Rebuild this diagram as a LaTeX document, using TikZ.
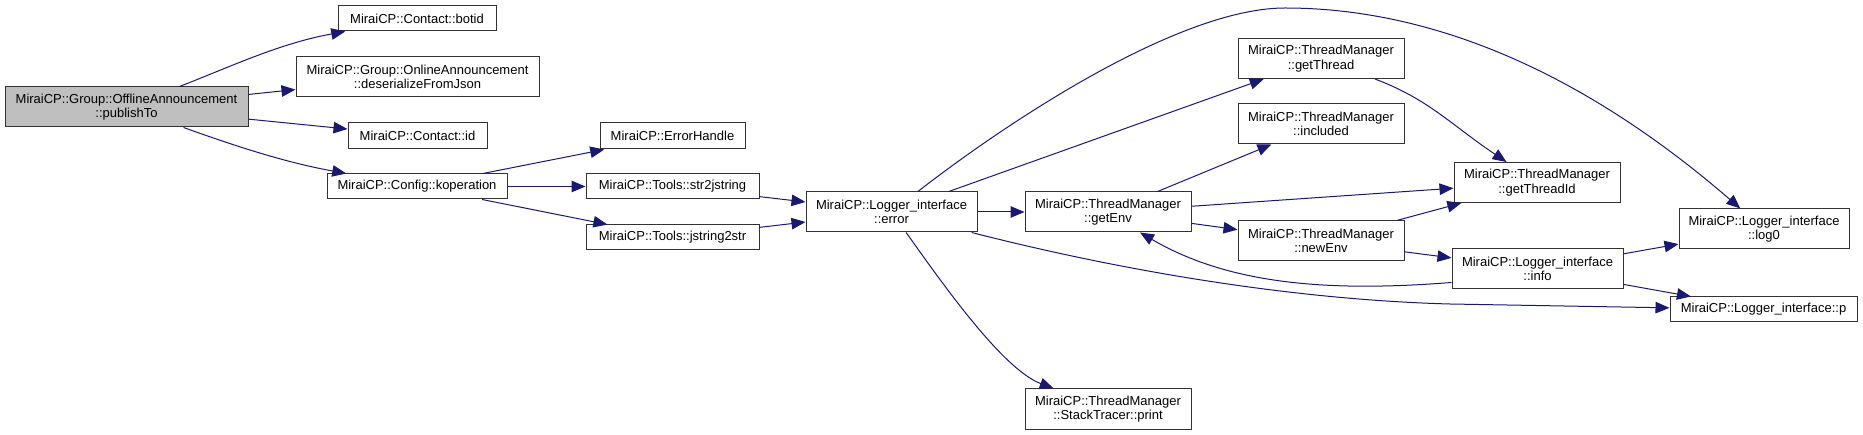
\documentclass[tikz,border=0pt]{standalone}
\usepackage{fontspec}
\setmainfont{Liberation Sans}
\usetikzlibrary{arrows.meta}
\definecolor{mblue}{HTML}{191970}
\definecolor{rootfill}{HTML}{BFBFBF}
\definecolor{bord}{HTML}{333333}
\begin{document}
\begin{tikzpicture}[x=1pt,y=-1pt,
  fn/.style={draw=bord, line width=1pt, fill=white, inner sep=0pt, align=center,
    font=\fontsize{13}{14.5}\selectfont, anchor=center},
  conn/.style={draw=mblue, line width=1pt, -{Triangle[length=14pt,width=11.5pt]}}]
\useasboundingbox (0,0) rectangle (1863,435);
% nodes
\node[fn, fill=rootfill, minimum width=243pt, minimum height=40pt] (pub) at (126.5,107) {MiraiCP::Group::OfflineAnnouncement\\::publishTo};
\node[fn, minimum width=158pt, minimum height=25pt] (botid) at (417,18.5) {MiraiCP::Contact::botid};
\node[fn, minimum width=243pt, minimum height=40pt] (deser) at (417.5,77) {MiraiCP::Group::OnlineAnnouncement\\::deserializeFromJson};
\node[fn, minimum width=139pt, minimum height=26pt] (cid) at (417.5,136) {MiraiCP::Contact::id};
\node[fn, minimum width=180pt, minimum height=25pt] (koper) at (417,186.5) {MiraiCP::Config::koperation};
\node[fn, minimum width=145pt, minimum height=26pt] (errh) at (672.5,136) {MiraiCP::ErrorHandle};
\node[fn, minimum width=173pt, minimum height=25pt] (s2j) at (672.5,186.5) {MiraiCP::Tools::str2jstring};
\node[fn, minimum width=173pt, minimum height=25pt] (j2s) at (672.5,237.5) {MiraiCP::Tools::jstring2str};
\node[fn, minimum width=171pt, minimum height=40pt] (err) at (891.5,212) {MiraiCP::Logger\_interface\\::error};
\node[fn, minimum width=166pt, minimum height=40pt] (genv) at (1108,212) {MiraiCP::ThreadManager\\::getEnv};
\node[fn, minimum width=166pt, minimum height=40pt] (stp) at (1108,409) {MiraiCP::ThreadManager\\::StackTracer::print};
\node[fn, minimum width=166pt, minimum height=40pt] (gth) at (1321,58.5) {MiraiCP::ThreadManager\\::getThread};
\node[fn, minimum width=166pt, minimum height=40pt] (incl) at (1321,124) {MiraiCP::ThreadManager\\::included};
\node[fn, minimum width=166pt, minimum height=40pt] (nenv) at (1321,241) {MiraiCP::ThreadManager\\::newEnv};
\node[fn, minimum width=166pt, minimum height=40pt] (gtid) at (1537,182.5) {MiraiCP::ThreadManager\\::getThreadId};
\node[fn, minimum width=171pt, minimum height=40pt] (info) at (1537.5,269) {MiraiCP::Logger\_interface\\::info};
\node[fn, minimum width=170pt, minimum height=40pt] (log0) at (1764,229) {MiraiCP::Logger\_interface\\::log0};
\node[fn, minimum width=187pt, minimum height=25pt] (p) at (1763.5,309.5) {MiraiCP::Logger\_interface::p};
% connectors
\coordinate (peak) at (1285,8);
\coordinate (pbend) at (1450,304);
\draw[conn] (pub) .. controls (230,67) and (279,43.5) .. (botid);
\draw[conn] (pub) -- (deser);
\draw[conn] (pub) -- (cid);
\draw[conn] (pub) .. controls (260,155) and (300,165) .. (koper);
\draw[conn] (koper) -- (errh);
\draw[conn] (koper) -- (s2j);
\draw[conn] (koper) -- (j2s);
\draw[conn] (s2j) -- (err);
\draw[conn] (j2s) -- (err);
\draw[conn] (err) -- (genv);
\draw[conn] (err) -- (gth);
\draw[conn] (err) .. controls (1010,120) and (1180,8) .. (peak) .. controls (1435,8) and (1586,75) .. (log0);
\draw[conn] (err) .. controls (940,280) and (1002,369) .. (stp);
\draw[conn] (err) .. controls (1130,273) and (1300,300) .. (pbend) -- (p);
\draw[conn] (genv) -- (incl);
\draw[conn] (genv) -- (gtid);
\draw[conn] (genv) -- (nenv);
\draw[conn] (gth) .. controls (1429,99.5) and (1450,124) .. (gtid);
\draw[conn] (nenv) -- (gtid);
\draw[conn] (nenv) -- (info);
\draw[conn] ([yshift=7pt]info.south west) .. controls (1330,292) and (1230,285) .. ([xshift=32pt]genv.south);
\draw[conn] (info) -- (log0);
\draw[conn] (info) -- (p);
\end{tikzpicture}
\end{document}
